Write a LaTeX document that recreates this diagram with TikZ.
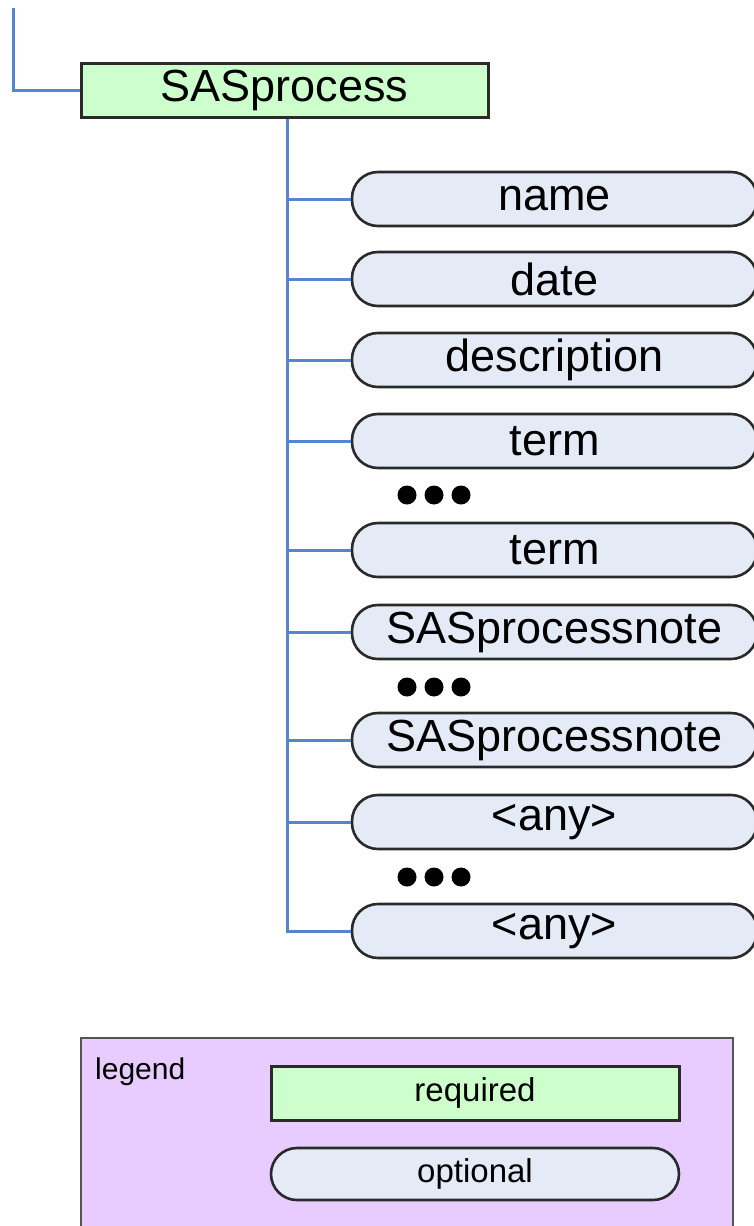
\documentclass[tikz,border=0pt]{standalone}
\usepackage{fontspec}
\setmainfont{Liberation Sans}
\definecolor{reqfill}{HTML}{CCFFCC}
\definecolor{optfill}{HTML}{E4EAF6}
\definecolor{legfill}{HTML}{E8CCFF}
\definecolor{conn}{HTML}{5585CC}
\definecolor{edge}{HTML}{2A2A2A}
\tikzset{
  reqbox/.style={draw=edge, line width=3pt, fill=reqfill, minimum width=407pt, minimum height=54pt, inner sep=0pt, font=\fontsize{45}{54}\selectfont},
  optbox/.style={draw=edge, line width=2.6pt, fill=optfill, rounded corners=26pt, minimum width=405pt, minimum height=54pt, inner sep=0pt, font=\fontsize{45}{54}\selectfont},
  conline/.style={draw=conn, line width=3pt},
  dotmark/.style={fill=black, circle, minimum size=19pt, inner sep=0pt},
  legbox/.style={draw=edge!80, line width=2.6pt, fill=legfill},
  smallreq/.style={reqbox, minimum width=408pt, font=\fontsize{33}{40}\selectfont},
  smallopt/.style={optbox, minimum width=408pt, minimum height=52pt, font=\fontsize{33}{40}\selectfont}
}
\begin{document}
\begin{tikzpicture}[x=1pt,y=-1pt]
\useasboundingbox (0,0) rectangle (754,1226);
\clip (0,0) rectangle (754,1226);
% top connector
\coordinate (top) at (13,8);
\node[reqbox] (sas) at (284.5,90) {SASprocess};
\draw[conline] (top) |- (sas.west);
% children
\node[optbox] (name) at (554.5,199) {name};
\node[optbox] (date) at (554.5,279) {date};
\node[optbox] (desc) at (554.5,360) {description};
\node[optbox] (term1) at (554.5,441) {term};
\node[optbox] (term2) at (554.5,550) {term};
\node[optbox] (note1) at (554.5,632) {SASprocessnote};
\node[optbox] (note2) at (554.5,740) {SASprocessnote};
\node[optbox] (any1) at (554.5,822) {<any>};
\node[optbox] (any2) at (554.5,931) {<any>};
\coordinate (tr) at ([xshift=2.5pt]sas.south);
\foreach \n in {name,date,desc,term1,term2,note1,note2,any1,any2}
  \draw[conline] (tr) |- (\n.west);
% dots
\foreach \y/\k in {495/a,687/b,877/c}{
  \node[dotmark] (d1\k) at (407,\y) {};
  \node[dotmark] (d2\k) at (434,\y) {};
  \node[dotmark] (d3\k) at (461,\y) {};
}
% legend
\path[legbox] (81,1038) rectangle (733,1245);
\node[anchor=north west, inner sep=0pt, font=\fontsize{30}{36}\selectfont] (legtxt) at (95,1058) {legend};
\node[smallreq] (req) at (475,1093) {required};
\node[smallopt] (opt) at (475,1174) {optional};
\end{tikzpicture}
\end{document}
